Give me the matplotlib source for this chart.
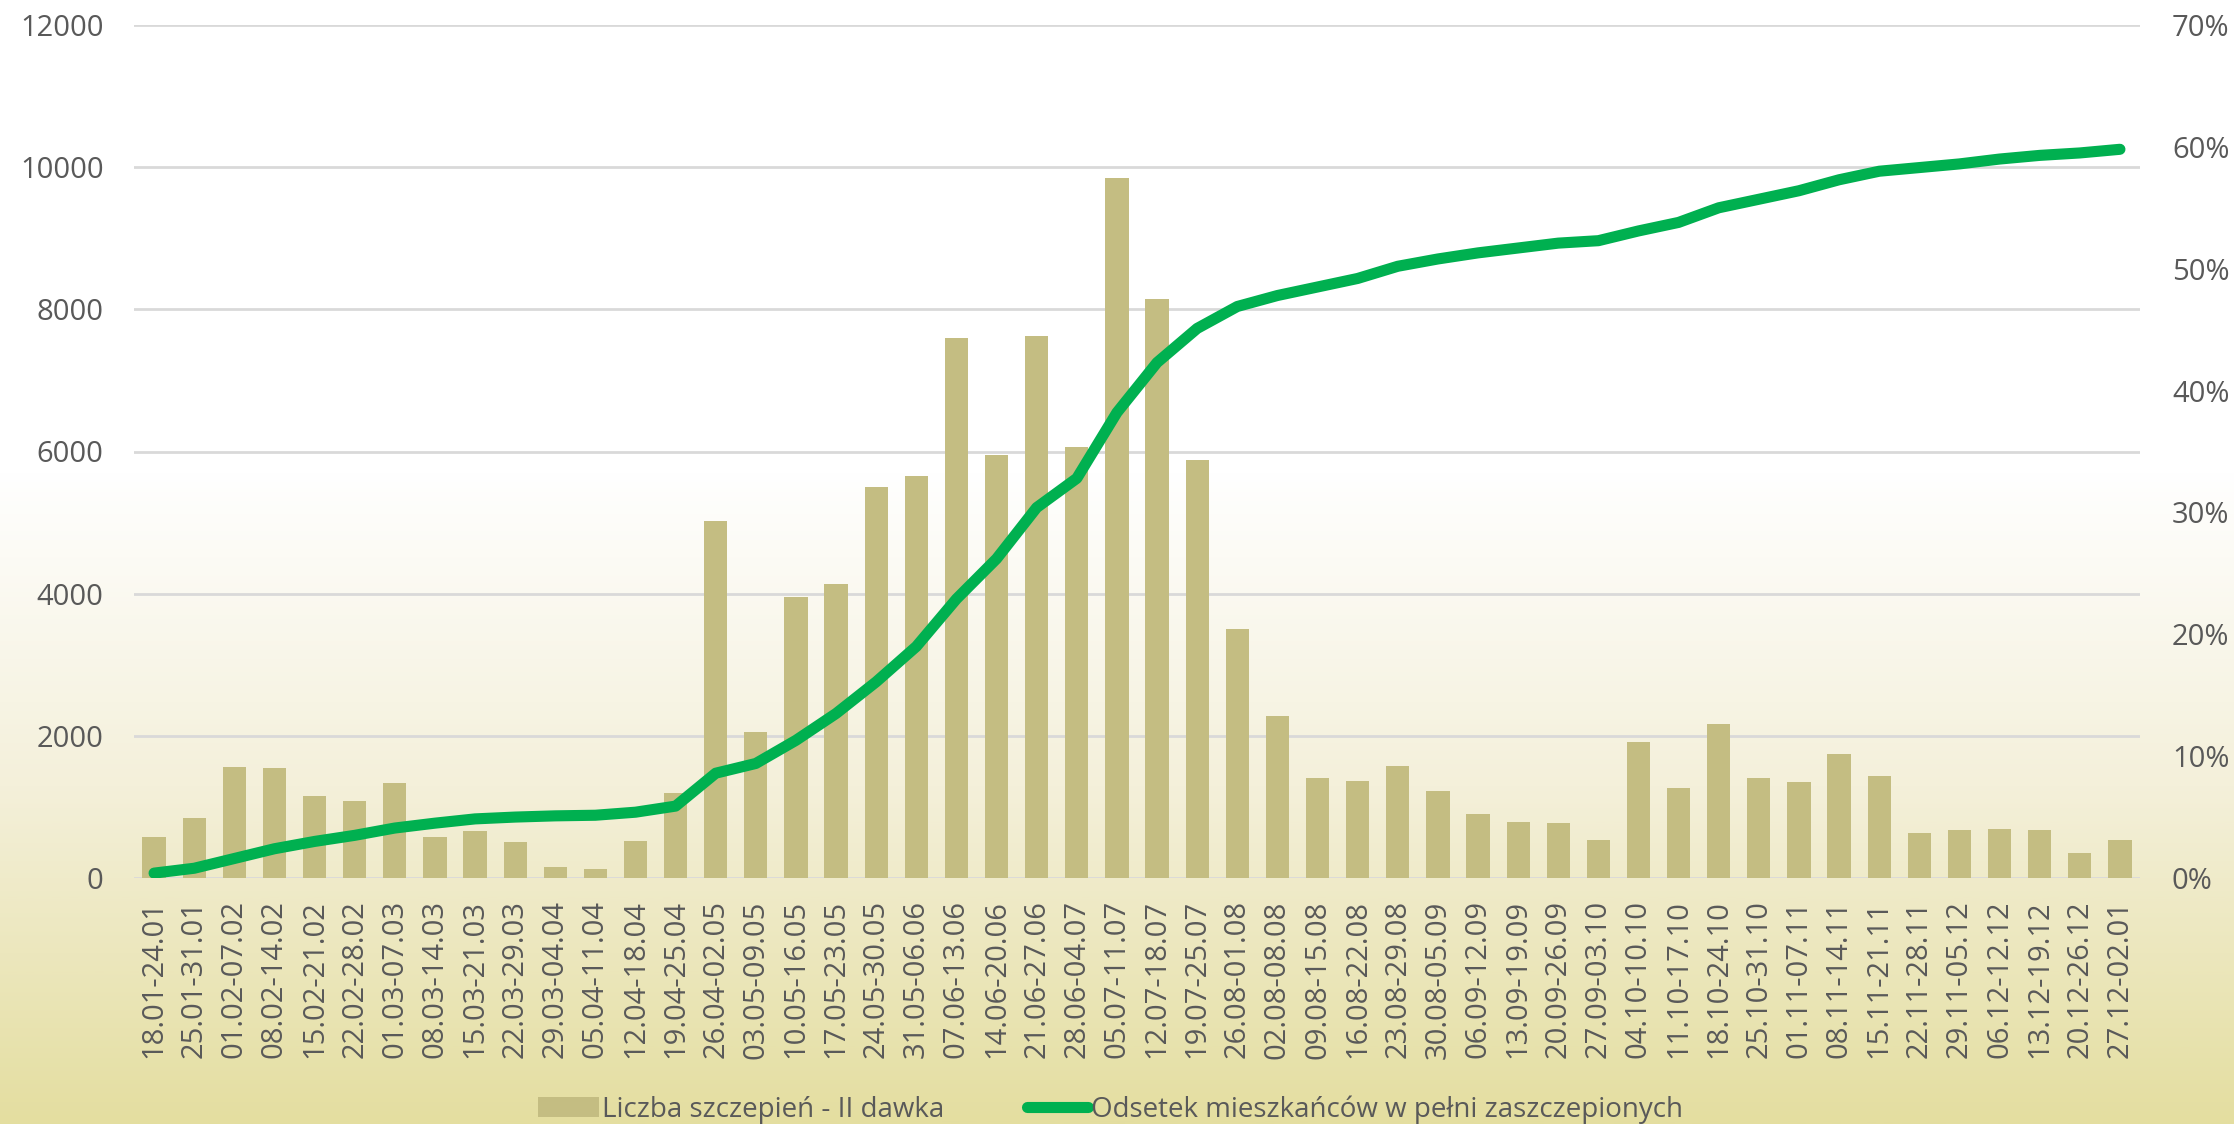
import numpy as np
import matplotlib
matplotlib.use("Agg")
import matplotlib.pyplot as plt
from matplotlib.colors import LinearSegmentedColormap
from matplotlib.ticker import FuncFormatter, MultipleLocator

categories = [
    "18.01-24.01", "25.01-31.01", "01.02-07.02", "08.02-14.02", "15.02-21.02",
    "22.02-28.02", "01.03-07.03", "08.03-14.03", "15.03-21.03", "22.03-29.03",
    "29.03-04.04", "05.04-11.04", "12.04-18.04", "19.04-25.04", "26.04-02.05",
    "03.05-09.05", "10.05-16.05", "17.05-23.05", "24.05-30.05", "31.05-06.06",
    "07.06-13.06", "14.06-20.06", "21.06-27.06", "28.06-04.07", "05.07-11.07",
    "12.07-18.07", "19.07-25.07", "26.08-01.08", "02.08-08.08", "09.08-15.08",
    "16.08-22.08", "23.08-29.08", "30.08-05.09", "06.09-12.09", "13.09-19.09",
    "20.09-26.09", "27.09-03.10", "04.10-10.10", "11.10-17.10", "18.10-24.10",
    "25.10-31.10", "01.11-07.11", "08.11-14.11", "15.11-21.11", "22.11-28.11",
    "29.11-05.12", "06.12-12.12", "13.12-19.12", "20.12-26.12", "27.12-02.01",
]

doses = [
    575, 850, 1560, 1545, 1150, 1080, 1330, 570, 660, 510,
    160, 130, 525, 1200, 5020, 2050, 3950, 4130, 5500, 5650,
    7600, 5950, 7630, 6060, 9850, 8140, 5880, 3500, 2280, 1410,
    1360, 1575, 1230, 900, 790, 770, 530, 1920, 1260, 2170,
    1400, 1345, 1750, 1440, 640, 670, 690, 670, 345, 530,
]

pct_full = [
    0.4, 0.8, 1.6, 2.4, 3.0, 3.5, 4.1, 4.5, 4.85, 5.0,
    5.1, 5.15, 5.4, 5.9, 8.6, 9.4, 11.3, 13.5, 16.1, 19.0,
    22.9, 26.2, 30.4, 32.8, 38.2, 42.3, 45.1, 46.9, 47.8, 48.5,
    49.2, 50.2, 50.8, 51.3, 51.7, 52.1, 52.3, 53.1, 53.8, 55.0,
    55.7, 56.4, 57.3, 58.0, 58.3, 58.6, 59.0, 59.3, 59.5, 59.8,
]

bar_label = "Liczba szczepień - II dawka"
line_label = "Odsetek mieszkańców w pełni zaszczepionych"

plt.rcParams['font.family'] = ['Open Sans', 'DejaVu Sans']

W, H = 2234, 1124
fig = plt.figure(figsize=(W / 100, H / 100), dpi=100)

# background gradient
bg = fig.add_axes([0, 0, 1, 1], zorder=-10)
cmap = LinearSegmentedColormap.from_list(
    "bg", [(0.0, "#ffffff"), (0.42, "#ffffff"), (0.7, "#f4f0da"), (1.0, "#e4dea0")])
grad = np.linspace(0, 1, 512).reshape(-1, 1)
bg.imshow(grad, aspect="auto", cmap=cmap, extent=[0, 1, 0, 1], origin="upper")
bg.set_axis_off()

left, right, top, bottom = 134, 2140, 25, 878
ax = fig.add_axes([left / W, 1 - bottom / H, (right - left) / W, (bottom - top) / H])
ax.set_facecolor("none")
x = np.arange(len(categories))
bars = ax.bar(x, doses, width=0.58, color="#c4bd82", zorder=2, label=bar_label)
ax.set_xlim(-0.5, len(categories) - 0.5)
ax.set_ylim(0, 12000)
ax.yaxis.set_major_locator(MultipleLocator(2000))
ax.grid(axis="y", color="#d9d9d9", linewidth=2, zorder=0)
ax.set_axisbelow(True)
for s in ax.spines.values():
    s.set_visible(False)
ax.set_xticks(x)
ax.set_xticklabels(categories, rotation=90, fontsize=21, color="#595959")
ax.tick_params(axis="x", length=0, pad=16)
ax.tick_params(axis="y", length=0, pad=22, labelsize=21, labelcolor="#595959")

ax2 = ax.twinx()
ax2.set_ylim(0, 70)
ax2.yaxis.set_major_locator(MultipleLocator(10))
ax2.yaxis.set_major_formatter(FuncFormatter(lambda v, p: f"{v:.0f}%"))
line, = ax2.plot(x, pct_full, color="#00b050", linewidth=8,
                 solid_capstyle="round", solid_joinstyle="round", zorder=3, label=line_label)
for s in ax2.spines.values():
    s.set_visible(False)
ax2.tick_params(axis="y", length=0, pad=23, labelsize=21, labelcolor="#595959")

fig.legend([bars, line], [bar_label, line_label], loc="center",
           bbox_to_anchor=(0.497, 0.013), ncol=2, frameon=False,
           fontsize=20, labelcolor="#595959", handlelength=2.2,
           handletextpad=0.1, columnspacing=3.0)

fig.savefig("out.png", dpi=100)
